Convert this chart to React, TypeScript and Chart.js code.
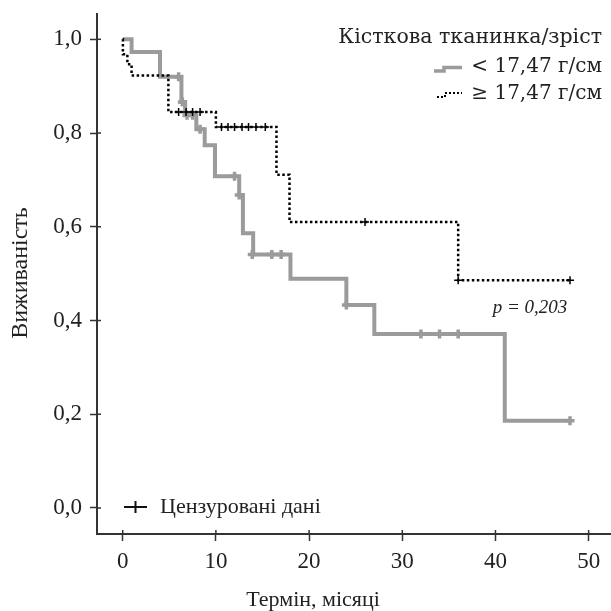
import React, { useEffect, useRef } from "react";
import { Chart, registerables } from "chart.js";
Chart.register(...registerables);

const xTicks = [0, 10, 20, 30, 40, 50];
const yTicks = [0, 0.2, 0.4, 0.6, 0.8, 1.0];

// < 17,47 г/см (grey solid)
const lowTime = [0, 0.95, 4.0, 6.3, 6.7, 7.9, 8.8, 9.9, 12.5, 12.9, 14.0, 18.0, 24.0, 27.0, 41.0, 48.0];
const lowSurv = [1.0, 0.973, 0.92, 0.866, 0.838, 0.808, 0.774, 0.708, 0.668, 0.586, 0.541, 0.489, 0.433, 0.371, 0.186, 0.186];
const lowCensTime = [6.0, 6.4, 6.9, 7.5, 8.3, 12.0, 12.5, 13.9, 16.0, 17.0, 24.0, 32.0, 34.0, 36.0, 48.0];
const lowCensSurv = [0.92, 0.866, 0.838, 0.838, 0.808, 0.708, 0.668, 0.541, 0.541, 0.541, 0.433, 0.371, 0.371, 0.371, 0.186];

// ≥ 17,47 г/см (black dotted)
const highTime = [0, 0.02, 0.5, 0.95, 4.9, 10.0, 16.5, 17.9, 36.0, 48.0];
const highSurv = [1.0, 0.968, 0.947, 0.923, 0.845, 0.813, 0.711, 0.61, 0.486, 0.486];
const highCensTime = [6.0, 6.8, 7.5, 8.3, 10.6, 11.3, 12.0, 12.8, 13.5, 14.3, 15.3, 26.0, 36.0, 48.0];
const highCensSurv = [0.845, 0.845, 0.845, 0.845, 0.813, 0.813, 0.813, 0.813, 0.813, 0.813, 0.813, 0.61, 0.486, 0.486];

const SERIF = '"Liberation Serif", "DejaVu Serif", serif';
const WIDE = '"DejaVu Serif", "Liberation Serif", serif';
const GREY = "#9b9b9b";
const INK = "#222222";

export default function App() {
  const ref = useRef<HTMLCanvasElement>(null);

  useEffect(() => {
    if (!ref.current) return;
    const pts = (t: number[], s: number[]) => t.map((x, i) => ({ x, y: s[i] }));

    const overlay = {
      id: "overlay",
      afterDraw(chart: any) {
        const ctx = chart.ctx as CanvasRenderingContext2D;
        const { left, bottom } = chart.chartArea;
        const xs = chart.scales.x;
        const ys = chart.scales.y;
        ctx.save();
        // inner parts of the tick marks
        ctx.strokeStyle = "#333";
        ctx.lineWidth = 1.5;
        xTicks.forEach((v) => {
          const px = xs.getPixelForValue(v);
          ctx.beginPath();
          ctx.moveTo(px, bottom);
          ctx.lineTo(px, bottom - 4);
          ctx.stroke();
        });
        yTicks.forEach((v) => {
          const py = ys.getPixelForValue(v);
          ctx.beginPath();
          ctx.moveTo(left, py);
          ctx.lineTo(left + 4, py);
          ctx.stroke();
        });

        ctx.fillStyle = INK;
        ctx.font = `22px ${SERIF}`;
        ctx.textAlign = "center";
        ctx.textBaseline = "middle";
        ctx.fillText("Термін, місяці", 313, 600);
        ctx.save();
        ctx.translate(21, 273);
        ctx.rotate(-Math.PI / 2);
        ctx.font = `24px ${SERIF}`;
        ctx.fillText("Виживаність", 0, 0);
        ctx.restore();

        // legend (top right)
        ctx.font = `20.5px ${WIDE}`;
        ctx.textAlign = "right";
        ctx.fillText("Кісткова тканинка/зріст", 602, 38);
        ctx.font = `20px ${WIDE}`;
        ctx.fillText("< 17,47 г/см", 602, 67);
        ctx.fillText("≥ 17,47 г/см", 602, 94);

        // grey step icon
        ctx.strokeStyle = GREY;
        ctx.lineWidth = 3.5;
        ctx.beginPath();
        ctx.moveTo(434, 71);
        ctx.lineTo(444, 71);
        ctx.lineTo(444, 67.5);
        ctx.lineTo(462, 67.5);
        ctx.stroke();
        // dotted step icon
        ctx.strokeStyle = "#000";
        ctx.lineWidth = 2;
        ctx.setLineDash([2, 2]);
        ctx.beginPath();
        ctx.moveTo(437, 97);
        ctx.lineTo(445, 97);
        ctx.lineTo(445, 93);
        ctx.lineTo(462, 93);
        ctx.stroke();
        ctx.setLineDash([]);

        // p-value
        ctx.fillStyle = INK;
        ctx.font = `italic 19px ${SERIF}`;
        ctx.textAlign = "center";
        ctx.fillText("p = 0,203", 530, 308);

        // censored legend (bottom left)
        ctx.strokeStyle = "#111";
        ctx.lineWidth = 2;
        ctx.beginPath();
        ctx.moveTo(124, 507);
        ctx.lineTo(147, 507);
        ctx.moveTo(135.5, 501);
        ctx.lineTo(135.5, 513);
        ctx.stroke();
        ctx.font = `22px ${SERIF}`;
        ctx.textAlign = "left";
        ctx.fillText("Цензуровані дані", 160, 507);
        ctx.restore();
      },
    };

    const chart = new Chart(ref.current, {
      type: "scatter",
      data: {
        datasets: [
          {
            label: "≥ 17,47 censored",
            data: pts(highCensTime, highCensSurv),
            showLine: false,
            pointStyle: "cross",
            pointRadius: 4,
            pointBorderWidth: 1.5,
            borderColor: "#000",
            backgroundColor: "#000",
          },
          {
            label: "≥ 17,47 г/см",
            data: pts(highTime, highSurv),
            showLine: true,
            stepped: "before",
            borderColor: "#000",
            borderWidth: 2.5,
            borderDash: [2.5, 2.5],
            pointRadius: 0,
            fill: false,
          },
          {
            label: "< 17,47 censored",
            data: pts(lowCensTime, lowCensSurv),
            showLine: false,
            pointStyle: "cross",
            pointRadius: 4.5,
            pointBorderWidth: 3.5,
            borderColor: GREY,
            backgroundColor: GREY,
          },
          {
            label: "< 17,47 г/см",
            data: pts(lowTime, lowSurv),
            showLine: true,
            stepped: "before",
            borderColor: GREY,
            borderWidth: 4,
            pointRadius: 0,
            fill: false,
          },
        ],
      },
      options: {
        responsive: false,
        animation: false,
        events: [],
        layout: { autoPadding: false, padding: { top: 14, right: 0, left: 0, bottom: 0 } },
        plugins: { legend: { display: false }, tooltip: { enabled: false } },
        scales: {
          x: {
            type: "linear",
            min: -2.76,
            max: 52.4,
            afterBuildTicks: (s: any) => {
              s.ticks = xTicks.map((v) => ({ value: v }));
            },
            afterFit: (s: any) => {
              s.height = 77;
              s.paddingLeft = 0;
              s.paddingRight = 0;
            },
            grid: { display: true, drawOnChartArea: false, drawTicks: true, tickLength: 7, tickWidth: 1.5, tickColor: "#333" },
            border: { display: true, color: "#333", width: 2 },
            ticks: {
              color: INK,
              font: { family: SERIF, size: 23 },
              padding: 7,
              maxRotation: 0,
              autoSkip: false,
              callback: (v: any) => String(v),
            },
          },
          y: {
            type: "linear",
            min: -0.0555,
            max: 1.054,
            afterBuildTicks: (s: any) => {
              s.ticks = yTicks.map((v) => ({ value: v }));
            },
            afterFit: (s: any) => {
              s.width = 97;
              s.paddingTop = 0;
              s.paddingBottom = 0;
            },
            grid: { display: true, drawOnChartArea: false, drawTicks: true, tickLength: 7, tickWidth: 1.5, tickColor: "#333" },
            border: { display: true, color: "#333", width: 2 },
            ticks: {
              color: INK,
              font: { family: SERIF, size: 23 },
              padding: 8,
              autoSkip: false,
              callback: (v: any) => Number(v).toFixed(1).replace(".", ","),
            },
          },
        },
      },
      plugins: [overlay],
    });
    return () => chart.destroy();
  }, []);

  return (
    <div style={{ position: "absolute", left: 0, top: 0, width: 611, height: 611, background: "#fff" }}>
      <canvas ref={ref} width={611} height={611} style={{ display: "block" }} />
    </div>
  );
}
